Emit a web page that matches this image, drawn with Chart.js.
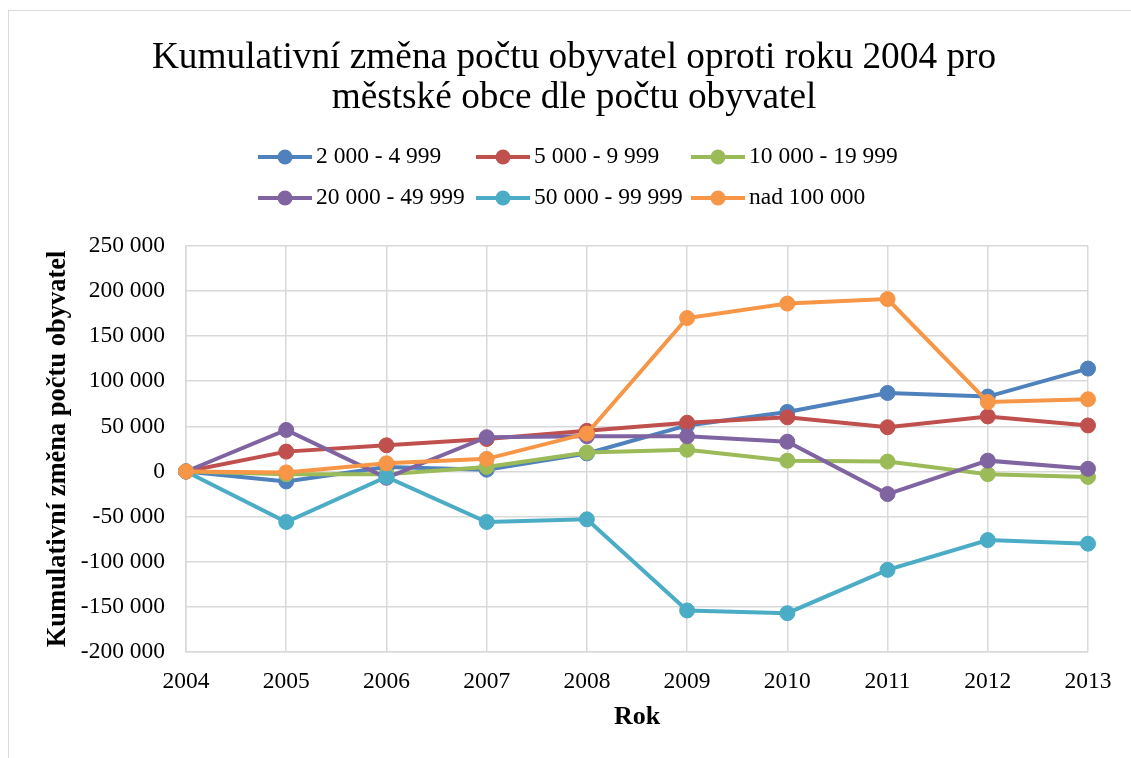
<!DOCTYPE html>
<html lang="cs">
<head>
<meta charset="utf-8">
<title>Kumulativní změna počtu obyvatel</title>
<script src="https://cdn.jsdelivr.net/npm/chart.js@4.4.1/dist/chart.umd.min.js"></script>
<style>
  html, body { margin: 0; padding: 0; background: #fff; }
  #wrap { position: relative; width: 1131px; height: 758px; overflow: hidden; }
  #frame { position: absolute; left: 8px; top: 10px; width: 1300px; height: 900px; border: 1.5px solid #d9d9d9; }
  #box { position: absolute; left: 0; top: 0; width: 1131px; height: 758px; }
</style>
</head>
<body>
<div id="wrap">
  <div id="frame"></div>
  <div id="box"><canvas id="chart"></canvas></div>
</div>
<script>
// Data
const years = ['2004', '2005', '2006', '2007', '2008', '2009', '2010', '2011', '2012', '2013'];
const seriesNames = ['2 000 - 4 999', '5 000 - 9 999', '10 000 - 19 999', '20 000 - 49 999', '50 000 - 99 999', 'nad 100 000'];
const obce2000 = [0, -11000, 5000, 2000, 20000, 51000, 66000, 87000, 83000, 114000];
const obce5000 = [0, 22000, 29000, 36000, 45000, 54000, 60000, 49000, 61000, 51000];
const obce10000 = [0, -3000, -3000, 5000, 21000, 24000, 12000, 11000, -3000, -6000];
const obce20000 = [0, 46000, -7000, 38000, 39000, 39000, 33000, -25000, 12000, 3000];
const obce50000 = [0, -56000, -6000, -56000, -53000, -154000, -157000, -109000, -76000, -80000];
const obce100000 = [0, -1000, 9000, 14000, 42000, 170000, 186000, 191000, 77000, 80000];

const colors = ['#4F81BD', '#C0504D', '#9BBB59', '#8064A2', '#4BACC6', '#F79646'];
const serif = "'Liberation Serif', 'Times New Roman', serif";

function fmt(v) {
    const s = String(Math.abs(v)).replace(/\B(?=(\d{3})+(?!\d))/g, ' ');
    return v < 0 ? '-' + s : s;
}

function makeDataset(i, values) {
    return {
        label: seriesNames[i],
        data: values,
        borderColor: colors[i],
        backgroundColor: colors[i],
        pointBackgroundColor: colors[i],
        pointBorderColor: colors[i],
        borderWidth: 4,
        pointRadius: 7.5,
        pointBorderWidth: 1,
        tension: 0,
        order: 6 - i
    };
}

// legenda ve stylu Excelu (3 sloupce, 2 řádky)
const legendCols = [258, 476, 691];
const legendRows = [157, 198];
const excelLegend = {
    id: 'excelLegend',
    afterDraw(chart) {
        const ctx = chart.ctx;
        ctx.save();
        chart.data.datasets.forEach((ds, i) => {
            const x0 = legendCols[i % 3];
            const y = legendRows[Math.floor(i / 3)];
            ctx.strokeStyle = ds.borderColor;
            ctx.lineWidth = 4;
            ctx.beginPath();
            ctx.moveTo(x0, y);
            ctx.lineTo(x0 + 54, y);
            ctx.stroke();
            ctx.fillStyle = ds.borderColor;
            ctx.beginPath();
            ctx.arc(x0 + 27, y, 7.5, 0, Math.PI * 2);
            ctx.fill();
            ctx.fillStyle = '#000';
            ctx.font = '23.5px ' + serif;
            ctx.textBaseline = 'middle';
            ctx.textAlign = 'left';
            ctx.fillText(ds.label, x0 + 58, y);
        });
        ctx.restore();
    }
};

new Chart(document.getElementById('chart'), {
    type: 'line',
    data: {
        labels: years,
        datasets: [
            makeDataset(0, obce2000),
            makeDataset(1, obce5000),
            makeDataset(2, obce10000),
            makeDataset(3, obce20000),
            makeDataset(4, obce50000),
            makeDataset(5, obce100000)
        ]
    },
    options: {
        responsive: true,
        maintainAspectRatio: false,
        animation: false,
        layout: { padding: { left: 17, right: 0, top: 0, bottom: 10 } },
        plugins: {
            legend: { display: false },
            tooltip: { enabled: false },
            title: {
                display: true,
                text: ['Kumulativní změna počtu obyvatel oproti roku 2004 pro', 'městské obce dle počtu obyvatel'],
                color: '#000',
                font: { family: serif, size: 37.3, weight: 'normal', lineHeight: 1.07 },
                padding: { top: 38, bottom: 128 }
            }
        },
        scales: {
            x: {
                grid: { color: '#d9d9d9', lineWidth: 1.5, drawTicks: false },
                border: { color: '#d9d9d9', width: 1.5 },
                ticks: { color: '#000', font: { family: serif, size: 23.5 }, padding: 16, maxRotation: 0 },
                title: {
                    display: true,
                    text: 'Rok',
                    color: '#000',
                    font: { family: serif, size: 26, weight: 'bold' },
                    padding: { top: 0, bottom: 15 }
                },
                afterFit(scale) { scale.height = 96; }
            },
            y: {
                min: -200000,
                max: 250000,
                grid: { color: '#d9d9d9', lineWidth: 1.5, drawTicks: false },
                border: { color: '#d9d9d9', width: 1.5 },
                ticks: {
                    stepSize: 50000,
                    color: '#000',
                    font: { family: serif, size: 23.5 },
                    padding: 21,
                    callback: v => fmt(v)
                },
                title: {
                    display: true,
                    text: 'Kumulativní změna počtu obyvatel',
                    color: '#000',
                    font: { family: serif, size: 26.5, weight: 'bold' },
                    padding: { top: 25, bottom: 0 }
                },
                afterFit(scale) { scale.width = 169; }
            },
            // prázdná osa vpravo jen kvůli okraji
            yRight: {
                position: 'right',
                grid: { display: false },
                border: { display: false },
                ticks: { display: false },
                afterFit(scale) { scale.width = 43; }
            }
        }
    },
    plugins: [excelLegend]
});
</script>
</body>
</html>
